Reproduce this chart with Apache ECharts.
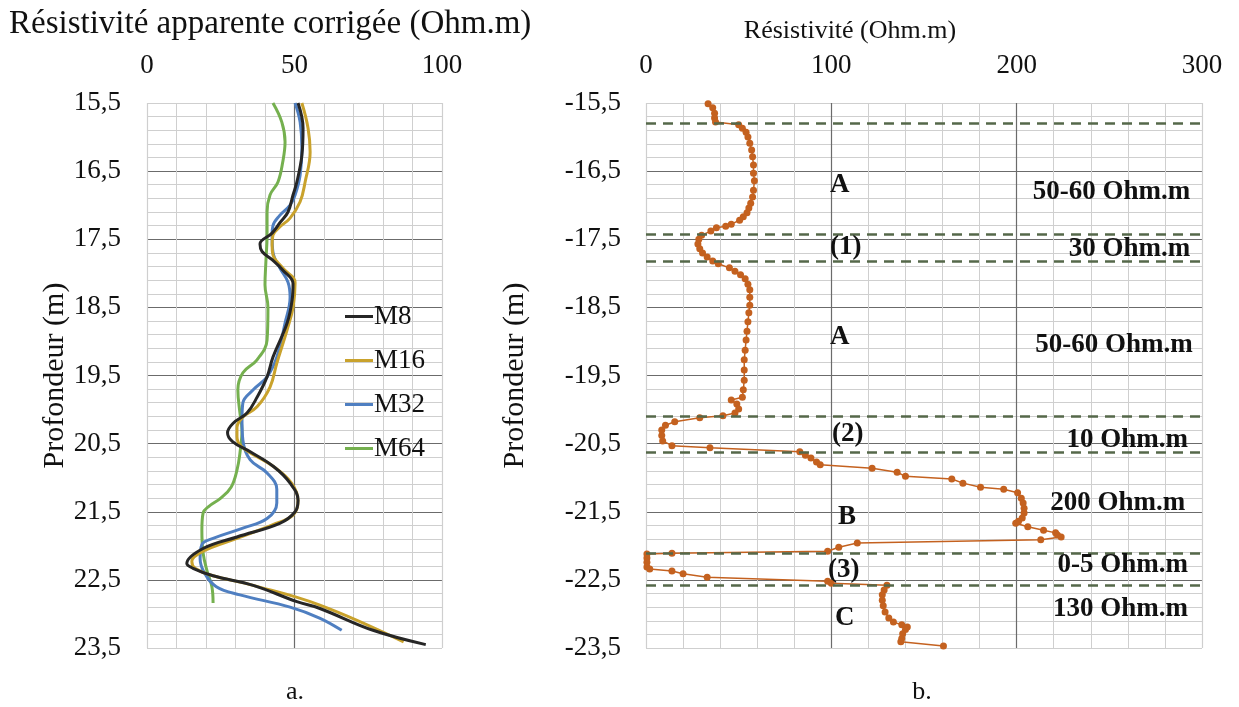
<!DOCTYPE html>
<html>
<head>
<meta charset="utf-8">
<title>Résistivité</title>
<script src="https://cdn.jsdelivr.net/npm/echarts@6/dist/echarts.min.js"></script>
<style>
  html, body { margin: 0; padding: 0; background: #fff; }
  #chart { width: 1239px; height: 707px; }
</style>
</head>
<body>
<div id="chart"></div>
<script>
"use strict";

// a. resistivite apparente corrigee, profondeur (m) -> Ohm.m
var depthM8 = [15.5, 15.87, 16.27, 16.66, 16.85, 17.1, 17.26, 17.41, 17.57, 17.68, 17.8, 17.95, 18.15, 18.39, 18.73, 19.23, 19.52, 19.82, 20.05, 20.2, 20.34, 20.47, 20.62, 20.84, 21.08, 21.33, 21.5, 21.67, 21.87, 22.04, 22.26, 22.33, 22.44, 22.58, 22.82, 22.92, 23.24, 23.45];
var resM8 = [51.2, 52.9, 52.5, 50.8, 49.5, 47.8, 45, 42.4, 38.3, 39, 42.4, 46, 49.5, 49.2, 47.5, 42.7, 40.7, 37.3, 33.9, 29.2, 27.3, 29, 35, 43, 48.5, 51.2, 50.2, 45, 30.5, 19, 13.5, 15.6, 22.4, 36, 50.8, 58.6, 76.6, 94.5];

var depthM16 = [15.5, 15.87, 16.22, 16.66, 16.95, 17.19, 17.32, 17.44, 17.58, 17.73, 17.92, 18.14, 18.5, 18.83, 19.32, 19.67, 19.96, 20.11, 20.26, 20.4, 20.55, 20.84, 21.08, 21.34, 21.55, 21.69, 21.89, 22.08, 22.23, 22.33, 22.44, 22.58, 22.87, 23.41];
var resM16 = [52.5, 54.6, 55.3, 53.6, 51.9, 48.5, 45, 42.7, 42.4, 42.7, 46, 50.2, 49.5, 47.5, 44, 41.7, 37.3, 32.5, 30.5, 30.5, 32.2, 43, 49, 51.2, 49.5, 42.7, 30.5, 19, 15.2, 16.3, 22.4, 36, 58.6, 87];

var depthM32 = [15.5, 15.78, 16.16, 16.56, 16.85, 17.0, 17.15, 17.3, 17.44, 17.69, 17.92, 18.13, 18.35, 18.73, 19.23, 19.52, 19.71, 19.9, 20.15, 20.45, 20.74, 20.93, 21.17, 21.37, 21.6, 21.74, 21.89, 21.98, 22.19, 22.4, 22.6, 22.72, 22.9, 23.06, 23.24];
var resM32 = [50.2, 51.9, 52.5, 51.9, 50.2, 48.5, 45, 42.7, 42.4, 42.7, 45, 47.8, 48.5, 46.8, 44, 40.7, 36, 32.5, 32.2, 32.5, 35, 40.7, 44, 44, 40.7, 32.5, 22.4, 18.6, 18, 19.5, 23.5, 31.5, 48.5, 58.5, 66];

var depthM64 = [15.5, 15.78, 16.07, 16.37, 16.66, 16.85, 17.1, 17.44, 17.83, 18.17, 18.5, 18.98, 19.27, 19.46, 19.71, 20.05, 20.3, 20.64, 20.89, 21.14, 21.3, 21.42, 21.52, 21.77, 22.1, 22.36, 22.6, 22.84];
var resM64 = [42.7, 45.7, 46.8, 46, 44.4, 41.7, 40.7, 40.7, 40.3, 40, 41, 40.7, 37.3, 32.5, 30.8, 31.5, 32.2, 31.5, 30.5, 28.5, 25, 21, 19, 18.6, 19, 20.3, 22, 22.4];

var seriesNames = ['M8', 'M16', 'M32', 'M64'];
var seriesColors = ['#262626', '#c9a22c', '#4f7fc1', '#75b04f'];

// b. resistivite, profondeur (m)
var depthB = [-15.51, -15.57, -15.65, -15.72, -15.78, -15.82, -15.87, -15.93, -16.0, -16.09, -16.19, -16.29, -16.41, -16.53, -16.64, -16.78, -16.88, -16.97, -17.04, -17.11, -17.17, -17.22, -17.28, -17.31, -17.33, -17.38, -17.44, -17.5, -17.57, -17.64, -17.7, -17.76, -17.82, -17.86, -17.92, -17.97, -18.02, -18.08, -18.16, -18.24, -18.35, -18.47, -18.58, -18.71, -18.85, -18.98, -19.13, -19.27, -19.42, -19.57, -19.71, -19.82, -19.86, -19.92, -19.99, -20.05, -20.09, -20.12, -20.18, -20.23, -20.3, -20.38, -20.46, -20.53, -20.56, -20.62, -20.67, -20.71, -20.77, -20.81, -20.86, -20.92, -20.98, -21.02, -21.08, -21.14, -21.17, -21.22, -21.3, -21.37, -21.45, -21.52, -21.59, -21.64, -21.67, -21.72, -21.77, -21.81, -21.84, -21.87, -21.91, -21.96, -22.02, -22.08, -22.11, -22.12, -22.18, -22.24, -22.31, -22.34, -22.37, -22.41, -22.46, -22.52, -22.55, -22.58, -22.65, -22.72, -22.8, -22.88, -22.97, -23.06, -23.12, -23.16, -23.19, -23.23, -23.29, -23.36, -23.41, -23.47];
var resB = [33.5, 36, 37, 37, 37.5, 50, 52, 54, 55, 56, 57, 57.5, 58, 58, 58.5, 58, 57.5, 56.5, 55.5, 54.5, 52.5, 50.5, 46, 43, 38, 35, 30, 28.5, 28, 29, 30.5, 33, 36, 39, 45, 48, 51, 53.5, 55, 56, 56, 56, 55.5, 55, 54.5, 54, 53.5, 53, 53, 53, 52.5, 52, 46, 49, 50, 48, 41.5, 29, 15.5, 10.5, 8.5, 8.5, 9, 14, 34.5, 83, 86, 89, 92, 94, 122, 135.5, 140, 165, 171, 180.5, 193, 200.5, 202.5, 203.5, 204, 204, 203, 201, 199.5, 206, 214.5, 221, 222, 224, 213, 114, 104, 98, 14, 0.5, 0.5, 0.5, 0.5, 2, 14, 20, 33, 98, 100, 130, 128.5, 127.5, 127.5, 128, 129, 131, 133.5, 138, 141, 140, 138.5, 138, 137.5, 160.5];

var layerBounds = [-15.8, -17.42, -17.83, -20.1, -20.62, -22.11, -22.58];

var zoneNames = ['A', '(1)', 'A', '(2)', 'B', '(3)', 'C'];
var zoneNameDepth = [-16.70, -17.61, -18.93, -20.36, -21.58, -22.35, -23.06];
var zoneNameRes = [99.3, 99.3, 99.3, 100.4, 103.6, 98.2, 102];

var zoneValues = ['50-60 Ohm.m', '30 Ohm.m', '50-60 Ohm.m', '10 Ohm.m', '200 Ohm.m', '0-5 Ohm.m', '130 Ohm.m'];
var zoneValueDepth = [-16.81, -17.64, -19.05, -20.45, -21.37, -22.28, -22.93];
var zoneValueRes = [293.6, 293.6, 295, 292.5, 291, 292.5, 292.5];

var serif = "'Liberation Serif', 'DejaVu Serif', serif";
var textColor = '#111111';
var lightGrid = '#cfcfcf';
var darkGrid = '#6b6b6b';

var myChart = echarts.init(document.getElementById('chart'));

function pairs(xs, ys) {
	var out = [];
	for (var i = 0; i < xs.length; i++) {
		out.push([xs[i], ys[i]]);
	}
	return out;
}

function commaLabel(v) {
	return v.toFixed(1).replace('.', ',');
}

function edgeColors(count) {
	// light frame lines at both ends, dark lines inside
	var c = [];
	for (var i = 0; i < count; i++) {
		c.push(i === 0 || i === count - 1 ? lightGrid : darkGrid);
	}
	return c;
}

function textSeries(res, depth, texts, side) {
	return {
		type: 'scatter',
		xAxisIndex: 1,
		yAxisIndex: 1,
		symbolSize: 0,
		silent: true,
		itemStyle: { opacity: 1 },
		data: texts.map(function (t, k) { return [res[k], depth[k], t]; }),
		label: {
			show: true,
			position: side,
			distance: 0,
			formatter: function (p) { return p.data[2]; },
			fontFamily: serif,
			fontWeight: 'bold',
			fontSize: 27,
			color: textColor
		},
		z: 6
	};
}

var leftDepths = [depthM8, depthM16, depthM32, depthM64];
var leftValues = [resM8, resM16, resM32, resM64];

var series = [];
for (var i = 0; i < seriesNames.length; i++) {
	series.push({
		name: seriesNames[i],
		type: 'line',
		xAxisIndex: 0,
		yAxisIndex: 0,
		smooth: 0.4,
		symbol: 'none',
		data: pairs(leftValues[i], leftDepths[i]),
		lineStyle: { color: seriesColors[i], width: 3 },
		itemStyle: { color: seriesColors[i] },
		z: 3 + (3 - i)
	});
}

series.push({
	name: 'Résistivité',
	type: 'line',
	xAxisIndex: 1,
	yAxisIndex: 1,
	data: pairs(resB, depthB),
	symbol: 'circle',
	symbolSize: 7,
	showAllSymbol: true,
	lineStyle: { color: '#c4611f', width: 1.5 },
	itemStyle: { color: '#c4611f' },
	z: 4,
	markLine: {
		silent: true,
		symbol: 'none',
		label: { show: false },
		lineStyle: { color: '#55684a', width: 2.5, type: [10, 7] },
		data: layerBounds.map(function (d) { return { yAxis: d }; })
	}
});

series.push(textSeries(zoneNameRes, zoneNameDepth, zoneNames, 'right'));
series.push(textSeries(zoneValueRes, zoneValueDepth, zoneValues, 'left'));

var axisText = { fontFamily: serif, fontSize: 27, color: textColor };

var option = {
	backgroundColor: '#ffffff',
	animation: false,
	textStyle: { fontFamily: serif },
	title: [
		{ text: 'Résistivité apparente corrigée (Ohm.m)', left: 4, top: 3, textStyle: { fontFamily: serif, fontSize: 33, fontWeight: 'normal', color: textColor } },
		{ text: 'Résistivité (Ohm.m)', left: 845, top: 13, textAlign: 'center', textStyle: { fontFamily: serif, fontSize: 26, fontWeight: 'normal', color: textColor } },
		{ text: 'a.', left: 290, top: 674, textAlign: 'center', textStyle: { fontFamily: serif, fontSize: 26, fontWeight: 'normal', color: textColor } },
		{ text: 'b.', left: 917, top: 674, textAlign: 'center', textStyle: { fontFamily: serif, fontSize: 26, fontWeight: 'normal', color: textColor } }
	],
	legend: {
		data: seriesNames,
		orient: 'vertical',
		left: 340,
		top: 298,
		itemGap: 17,
		itemWidth: 28,
		itemHeight: 3,
		icon: 'rect',
		textStyle: { fontFamily: serif, fontSize: 27, color: textColor, padding: [0, 0, 0, -4] }
	},
	grid: [
		{ left: 147, top: 103, width: 295, height: 545 },
		{ left: 646, top: 103, width: 556, height: 545 }
	],
	xAxis: [{
		gridIndex: 0,
		type: 'value',
		position: 'top',
		min: 0,
		max: 100,
		interval: 50,
		axisLine: { show: false },
		axisTick: { show: false },
		axisLabel: Object.assign({ margin: 24 }, axisText),
		splitLine: { show: true, lineStyle: { color: edgeColors(3), width: 1.2 } },
		minorTick: { show: false, splitNumber: 5 },
		minorSplitLine: { show: true, lineStyle: { color: lightGrid, width: 1 } }
	}, {
		gridIndex: 1,
		type: 'value',
		position: 'top',
		min: 0,
		max: 300,
		interval: 100,
		axisLine: { show: false },
		axisTick: { show: false },
		axisLabel: Object.assign({ margin: 24 }, axisText),
		splitLine: { show: true, lineStyle: { color: edgeColors(4), width: 1.2 } },
		minorTick: { show: false, splitNumber: 5 },
		minorSplitLine: { show: true, lineStyle: { color: lightGrid, width: 1 } }
	}],
	yAxis: [{
		gridIndex: 0,
		type: 'value',
		inverse: true,
		min: 15.5,
		max: 23.5,
		interval: 1,
		name: 'Profondeur (m)',
		nameLocation: 'middle',
		nameGap: 74,
		nameTextStyle: { fontFamily: serif, fontSize: 30, color: textColor },
		axisLine: { show: false },
		axisTick: { show: false },
		axisLabel: Object.assign({ margin: 26, formatter: commaLabel }, axisText),
		splitLine: { show: true, lineStyle: { color: edgeColors(9), width: 1.2 } },
		minorTick: { show: false, splitNumber: 5 },
		minorSplitLine: { show: true, lineStyle: { color: lightGrid, width: 1 } }
	}, {
		gridIndex: 1,
		type: 'value',
		min: -23.5,
		max: -15.5,
		interval: 1,
		name: 'Profondeur (m)',
		nameLocation: 'middle',
		nameGap: 116,
		nameTextStyle: { fontFamily: serif, fontSize: 30, color: textColor },
		axisLine: { show: false },
		axisTick: { show: false },
		axisLabel: Object.assign({ margin: 25, formatter: commaLabel }, axisText),
		splitLine: { show: true, lineStyle: { color: edgeColors(9), width: 1.2 } },
		minorTick: { show: false, splitNumber: 5 },
		minorSplitLine: { show: true, lineStyle: { color: lightGrid, width: 1 } }
	}],
	series: series
};

myChart.setOption(option);
</script>
</body>
</html>
